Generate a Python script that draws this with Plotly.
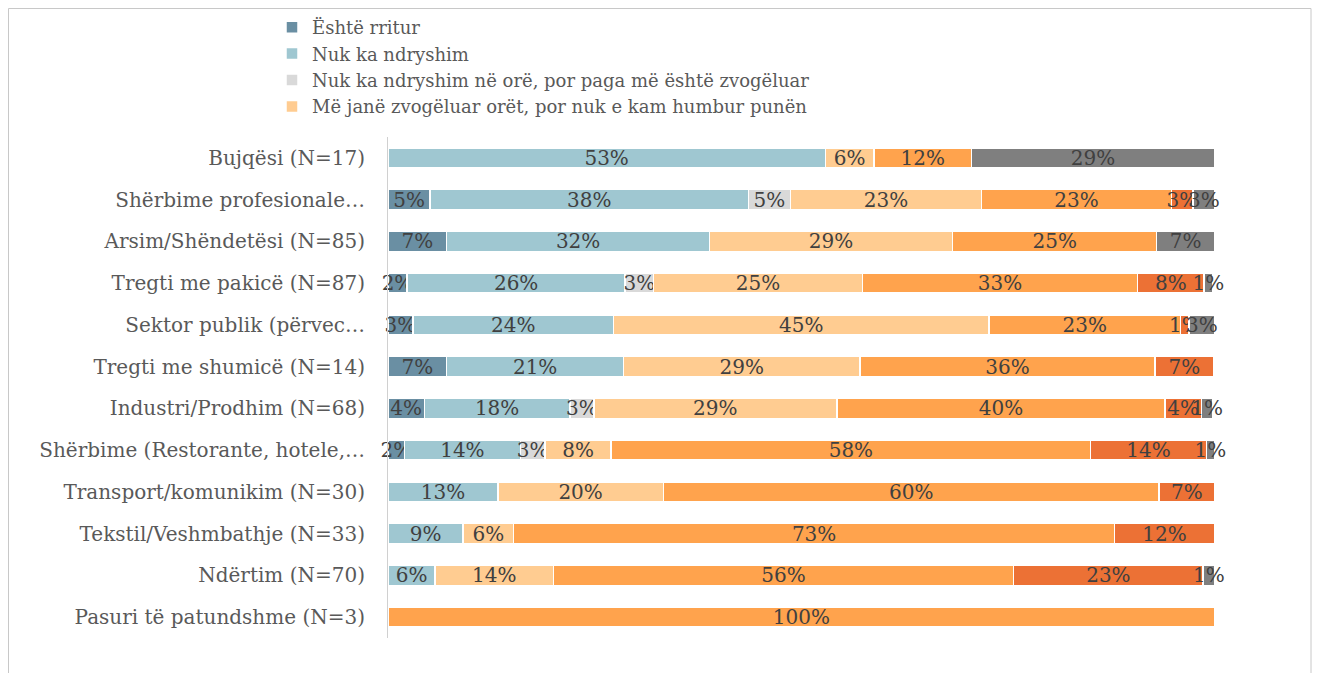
import plotly.graph_objects as go

categories = [
    "Bujqësi (N=17)",
    "Shërbime profesionale…",
    "Arsim/Shëndetësi (N=85)",
    "Tregti me pakicë (N=87)",
    "Sektor publik (përvec…",
    "Tregti me shumicë (N=14)",
    "Industri/Prodhim (N=68)",
    "Shërbime (Restorante, hotele,…",
    "Transport/komunikim (N=30)",
    "Tekstil/Veshmbathje (N=33)",
    "Ndërtim (N=70)",
    "Pasuri të patundshme (N=3)",
]

series_names = [
    "Është rritur",
    "Nuk ka ndryshim",
    "Nuk ka ndryshim në orë, por paga më është zvogëluar",
    "Më janë zvogëluar orët, por nuk e kam humbur punën",
    "Më janë zvogëluar orët dhe paga",
    "E kam humbur punën",
    "Tjetër",
]

s1 = [0, 5.1, 7.1, 2.3, 3.0, 7.1, 4.4, 2, 0, 0, 0, 0]
s2 = [52.9, 38.5, 31.8, 26.4, 24.3, 21.4, 17.6, 14, 13.3, 9.1, 5.7, 0]
s3 = [0, 5.1, 0, 3.4, 0, 0, 2.9, 3, 0, 0, 0, 0]
s4 = [5.9, 23.1, 29.4, 25.3, 45.4, 28.6, 29.4, 8, 20.0, 6.1, 14.3, 0]
s5 = [11.8, 23.0, 24.7, 33.3, 23.2, 35.7, 39.7, 58, 60.0, 72.7, 55.7, 100]
s6 = [0, 2.6, 0, 8.0, 1.0, 7.1, 4.4, 14, 6.7, 12.1, 22.9, 0]
s7 = [29.4, 2.6, 7.0, 1.1, 3.1, 0, 1.4, 1, 0, 0, 1.4, 0]

series_values = [s1, s2, s3, s4, s5, s6, s7]
colors = ["#6A8FA3", "#9FC7D1", "#D9D9D9", "#FFCC91", "#FFA34D", "#EC7135", "#7F7F7F"]
in_legend = [True, True, True, True, False, False, False]

FONT = "DejaVu Serif"

fig = go.Figure()
for name, vals, col, leg in zip(series_names, series_values, colors, in_legend):
    fig.add_trace(go.Bar(
        y=categories,
        x=[v if v else None for v in vals],
        name=name,
        orientation="h",
        marker=dict(color=col, line=dict(color="white", width=1.5)),
        text=[f"{v:.0f}%" if v else "" for v in vals],
        textposition="inside",
        insidetextanchor="middle",
        constraintext="none",
        textangle=0,
        cliponaxis=False,
        textfont=dict(family=FONT, size=20, color="#404040"),
        showlegend=leg,
        hoverinfo="name+x+y",
    ))

# page offset of the figure (body margin)
OFF = 8
W, H = 1323 - OFF, 673 - OFF
# plot area in page pixels: x 388..1215, y 137..638
L = 388 - OFF
T = 137 - OFF
R = W - (1215 - OFF)
B = H - (638 - OFF)
pw, ph = W - L - R, H - T - B

def px(x_page):
    return (x_page - OFF - L) / pw

def py(y_page):
    return (H - B - (y_page - OFF)) / ph

fig.update_layout(
    width=W, height=H,
    barmode="stack",
    bargap=0.52,
    margin=dict(l=L, r=R, t=T, b=B, autoexpand=False),
    plot_bgcolor="white",
    paper_bgcolor="white",
    font=dict(family=FONT, size=20, color="#595959"),
    xaxis=dict(range=[0, 100.05], visible=False, fixedrange=True),
    yaxis=dict(
        autorange="reversed",
        showline=True, linecolor="#D0D0D0", linewidth=1,
        showgrid=False, ticks="", ticklabelstandoff=18,
        tickfont=dict(family=FONT, size=20, color="#595959"),
    ),
    legend=dict(
        x=px(272), y=py(9), xanchor="left", yanchor="top",
        orientation="v", traceorder="normal",
        font=dict(family=FONT, size=18, color="#595959"),
        itemwidth=30, tracegroupgap=0,
        bgcolor="rgba(0,0,0,0)",
    ),
    shapes=[dict(
        type="rect", xref="paper", yref="paper",
        x0=px(8.5), x1=px(1311), y0=py(700), y1=py(8.5),
        line=dict(color="#C8C8C8", width=1), fillcolor="rgba(0,0,0,0)",
        layer="below",
    )],
)

fig.write_html("out.html")
